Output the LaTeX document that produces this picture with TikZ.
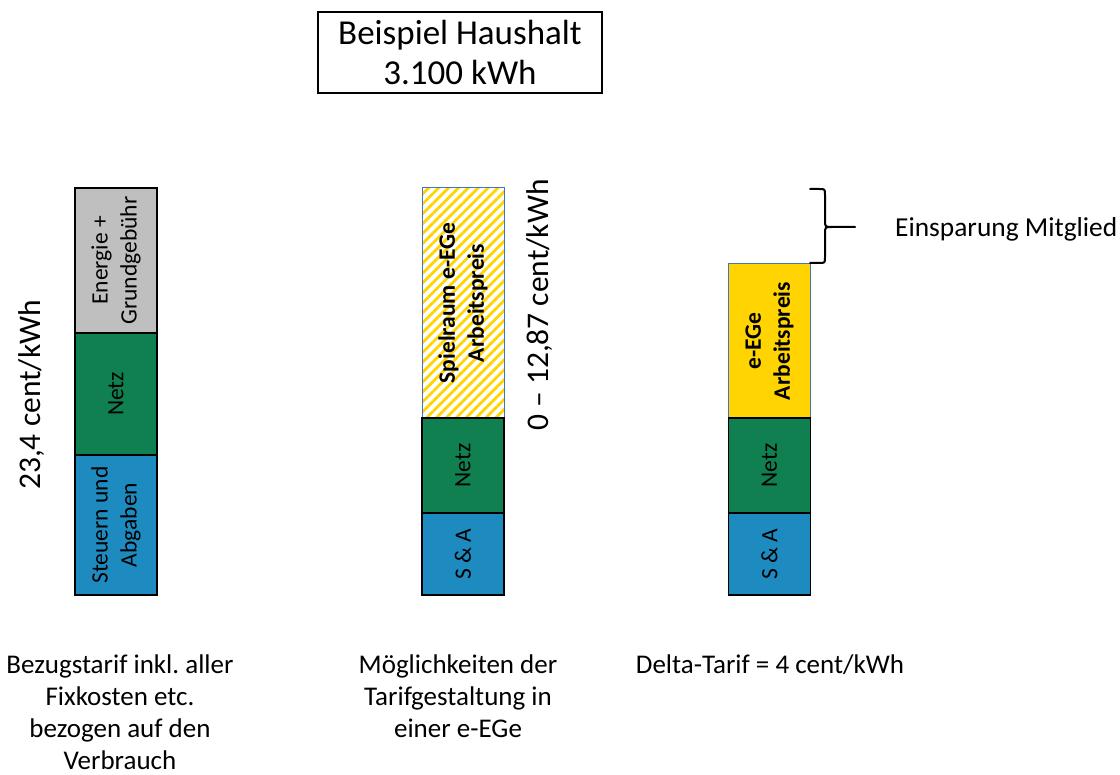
\documentclass[tikz,border=0pt]{standalone}
\usepackage{fontspec}
\setmainfont{Carlito}
\usetikzlibrary{patterns.meta}
\frenchspacing
\definecolor{gray1}{RGB}{191,191,191}
\definecolor{green1}{RGB}{16,128,80}
\definecolor{blue1}{RGB}{30,139,192}
\definecolor{yellow1}{RGB}{255,212,0}
\definecolor{outl}{RGB}{68,114,196}
\begin{document}
\begin{tikzpicture}[x=1pt,y=-1pt,
  seg/.style={draw=black,line width=1.5pt,inner sep=0pt,minimum width=82pt},
  segb/.style={draw=outl,line width=1pt,inner sep=0pt,minimum width=82pt},
  lab/.style={rotate=90,align=center,font=\fontsize{23.5}{29}\selectfont,inner sep=0pt},
  big/.style={font=\fontsize{31.5}{36}\selectfont,inner sep=0pt},
  captext/.style={align=center,font=\fontsize{27}{32}\selectfont,inner sep=0pt,anchor=north}]
\useasboundingbox (0,0) rectangle (1120,775);
% title
\node[draw=black,line width=1.2pt,minimum width=284pt,minimum height=81pt,inner sep=0pt,align=center,
  font=\fontsize{35}{40}\selectfont] (title) at (460,52.5) {Beispiel Haushalt\\3.100 kWh};
% bar 1
\node[seg,fill=gray1,minimum height=145pt] (a1) at (116,260.5) {};
\node[seg,fill=green1,minimum height=122pt] (a2) at (116,394) {};
\node[seg,fill=blue1,minimum height=140pt] (a3) at (116,525) {};
\node[lab] (la1) at (a1.center) {Energie +\\Grundgebühr};
\node[lab] (la2) at (a2.center) {Netz};
\node[lab] (la3) at (a3.center) {Steuern und\\Abgaben};
\node[big,rotate=90] (v1) at (32,395) {23,4 cent/kWh};
% bar 2
\node[segb,pattern={Lines[angle=45,distance=7pt,line width=2.8pt]},pattern color=yellow1,minimum height=230pt] (b1) at (463,303) {};
\node[seg,fill=green1,minimum height=95pt] (b2) at (463,465.5) {};
\node[seg,fill=blue1,minimum height=82pt] (b3) at (463,554) {};
\node[lab,font=\bfseries\fontsize{23.5}{29}\selectfont] (lb1) at (b1.center) {Spielraum e-EGe\\Arbeitspreis};
\node[lab] (lb2) at (b2.center) {Netz};
\node[lab] (lb3) at (b3.center) {S \& A};
\node[big,rotate=90] (v2) at (540,305) {0 – 12,87 cent/kWh};
% bar 3
\node[segb,fill=yellow1,minimum height=154pt] (c1) at (769.5,341) {};
\node[seg,fill=green1,minimum height=95pt] (c2) at (769.5,465.5) {};
\node[seg,fill=blue1,minimum height=82pt] (c3) at (769.5,554) {};
\node[lab,font=\bfseries\fontsize{23.5}{29}\selectfont] (lc1) at (c1.center) {e-EGe\\Arbeitspreis};
\node[lab] (lc2) at (c2.center) {Netz};
\node[lab] (lc3) at (c3.center) {S \& A};
% brace
\coordinate (bt) at (810,189);
\coordinate (bb) at (810,263);
\coordinate (bm) at (855,227);
\draw[line width=2pt,line cap=round,line join=round]
  (bt) -- (819,189) .. controls (825,189) .. (825,195) -- (825,220) .. controls (825,227) .. (832,227) -- (bm);
\draw[line width=2pt,line cap=round,line join=round]
  (832,227) .. controls (825,227) .. (825,234) -- (825,257) .. controls (825,263) .. (819,263) -- (bb);
\node[font=\fontsize{27.4}{32}\selectfont,anchor=west,inner sep=0pt] (es) at (895,229) {Einsparung Mitglied};
% captions
\node[captext] (c1t) at (120,655) {Bezugstarif inkl. aller\\Fixkosten etc.\\bezogen auf den\\Verbrauch};
\node[captext] (c2t) at (458,655) {Möglichkeiten der\\Tarifgestaltung in\\einer e-EGe};
\node[captext] (c3t) at (770,655) {Delta-Tarif = 4 cent/kWh};
\end{tikzpicture}
\end{document}
